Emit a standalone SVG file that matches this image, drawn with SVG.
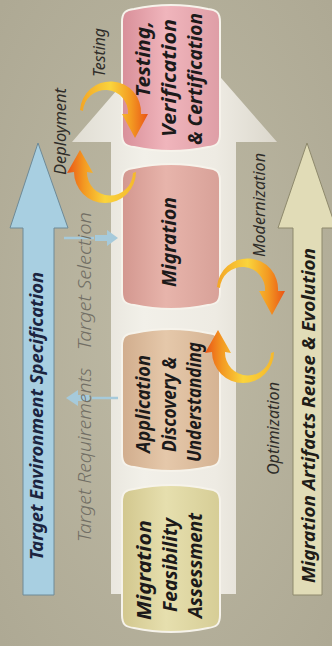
<svg xmlns="http://www.w3.org/2000/svg" width="332" height="646" viewBox="0 0 332 646">
<style>
.nt{font-family:"Noto Sans","DejaVu Sans",sans-serif;font-size:20px;font-weight:700;font-style:italic;fill:#1c1a1a}
.side{font-family:"Noto Sans","DejaVu Sans",sans-serif;font-size:19px;font-weight:300;font-style:italic;fill:#716e64}
.flow{font-family:"Noto Sans","DejaVu Sans",sans-serif;font-size:16px;font-style:italic;fill:#2e2c28}
.big{font-family:"Noto Sans","DejaVu Sans",sans-serif;font-size:17.5px;font-weight:700;font-style:italic}
.ns{stroke:#f6f3eb;stroke-width:2}
.blue{fill:#a6cadb}
</style>
<defs>
<radialGradient id="bg" cx="0.5" cy="0.5" r="0.7">
<stop offset="0" stop-color="#bebaa5"/><stop offset="1" stop-color="#aea994"/>
</radialGradient>
<linearGradient id="shaft" x1="0" y1="0" x2="1" y2="0">
<stop offset="0" stop-color="#e0ddd3"/><stop offset="0.35" stop-color="#f2f0e9"/><stop offset="0.7" stop-color="#eeebe3"/><stop offset="1" stop-color="#dbd7cc"/>
</linearGradient>
<linearGradient id="gT" x1="0" y1="0" x2="1" y2="0">
<stop offset="0" stop-color="#d88f99"/><stop offset="0.45" stop-color="#f0b5bc"/><stop offset="1" stop-color="#de9ea6"/>
</linearGradient>
<linearGradient id="gM" x1="0" y1="0" x2="1" y2="0">
<stop offset="0" stop-color="#d3978f"/><stop offset="0.45" stop-color="#e7b4ab"/><stop offset="1" stop-color="#d8a198"/>
</linearGradient>
<linearGradient id="gA" x1="0" y1="0" x2="1" y2="0">
<stop offset="0" stop-color="#d1ad8d"/><stop offset="0.45" stop-color="#e5c8aa"/><stop offset="1" stop-color="#d5b393"/>
</linearGradient>
<linearGradient id="gF" x1="0" y1="0" x2="1" y2="0">
<stop offset="0" stop-color="#d2c78e"/><stop offset="0.45" stop-color="#e6dfae"/><stop offset="1" stop-color="#d6cd96"/>
</linearGradient>
<linearGradient id="oA" x1="0" y1="0" x2="1" y2="0">
<stop offset="0" stop-color="#f3a526"/><stop offset="0.45" stop-color="#fad43c"/><stop offset="0.75" stop-color="#f39a22"/><stop offset="1" stop-color="#ea5416"/>
</linearGradient>
<linearGradient id="oB" x1="1" y1="0" x2="0" y2="0">
<stop offset="0" stop-color="#f5b82c"/><stop offset="0.45" stop-color="#fad43c"/><stop offset="0.75" stop-color="#f39a22"/><stop offset="1" stop-color="#ea5416"/>
</linearGradient>
<path id="arcA" fill="url(#oA)" d="M80,110 A30.5,30.5 0 0 1 141,114 L148,114 L135,138 L122,114 L128,114 A22.5,22.5 0 0 0 83,111 Z"/>
<path id="arcB" fill="url(#oB)" d="M136,172 A31,31 0 0 1 74,172 L67,173 L80,150 L93,173 L87,172 A23,23 0 0 0 133,173 Z"/>
</defs>

<rect width="332" height="646" fill="url(#bg)"/>

<g id="main-arrow">
<polygon points="111,594 111,142 72,142 174,24 277,142 236,142 236,594" fill="url(#shaft)"/>
</g>

<g id="target-env">
<polygon points="23,595 23,228 10,228 38,143 68,228 54,228 54,595" fill="#a8cfe1" stroke="#6e8a97" stroke-width="1"/>
<text class="big" fill="#1b2440" transform="translate(43,560) rotate(-90)" textLength="288" lengthAdjust="spacingAndGlyphs">Target Environment Specification</text>
</g>

<g id="artifacts">
<polygon points="293,595 293,228 278,228 307,143 336,228 322,228 322,595" fill="#e1dcb7" stroke="#8e896c" stroke-width="1"/>
<text class="big" fill="#1f1d18" transform="translate(315,583) rotate(-90)" textLength="335" lengthAdjust="spacingAndGlyphs">Migration Artifacts Reuse &amp; Evolution</text>
</g>

<g id="node-testing">
<path class="ns" fill="url(#gT)" d="M122,22 C122,12 126,10 134,9 Q171,1 208,9 C216,10 220,12 220,22 L220,134 C220,144 216,146 208,147 Q171,155 134,147 C126,146 122,144 122,134 Z"/>
<text class="nt" transform="translate(150,97) rotate(-90)" textLength="76" lengthAdjust="spacingAndGlyphs">Testing,</text>
<text class="nt" transform="translate(176,137) rotate(-90)" textLength="118" lengthAdjust="spacingAndGlyphs">Verification</text>
<text class="nt" transform="translate(202,145) rotate(-90)" textLength="132" lengthAdjust="spacingAndGlyphs">&amp; Certification</text>
</g>

<g id="node-migration">
<path class="ns" fill="url(#gM)" d="M122,181 C122,171 126,169 134,168 Q171,160 208,168 C216,169 220,171 220,181 L220,292 C220,302 216,304 208,305 Q171,313 134,305 C126,304 122,302 122,292 Z"/>
<text class="nt" transform="translate(176,287) rotate(-90)" textLength="90" lengthAdjust="spacingAndGlyphs">Migration</text>
</g>

<g id="node-discovery">
<path class="ns" fill="url(#gA)" d="M122,346 C122,336 126,334 134,333 Q171,325 208,333 C216,334 220,336 220,346 L220,454 C220,464 216,466 208,467 Q171,475 134,467 C126,466 122,464 122,454 Z"/>
<text class="nt" transform="translate(150,453) rotate(-90)" textLength="98" lengthAdjust="spacingAndGlyphs">Application</text>
<text class="nt" transform="translate(176,452) rotate(-90)" textLength="95" lengthAdjust="spacingAndGlyphs">Discovery &amp;</text>
<text class="nt" transform="translate(201,462) rotate(-90)" textLength="120" lengthAdjust="spacingAndGlyphs">Understanding</text>
</g>

<g id="node-feasibility">
<path class="ns" fill="url(#gF)" d="M122,502 C122,492 126,490 134,489 Q171,481 208,489 C216,490 220,492 220,502 L220,615 C220,625 216,627 208,628 Q171,636 134,628 C126,627 122,625 122,615 Z"/>
<text class="nt" transform="translate(151,620) rotate(-90)" textLength="100" lengthAdjust="spacingAndGlyphs">Migration</text>
<text class="nt" transform="translate(177,612) rotate(-90)" textLength="94" lengthAdjust="spacingAndGlyphs">Feasibility</text>
<text class="nt" transform="translate(202,618) rotate(-90)" textLength="105" lengthAdjust="spacingAndGlyphs">Assessment</text>
</g>

<g id="connectors">
<use href="#arcA"/>
<use href="#arcB"/>
<use href="#arcA" transform="translate(137,177)"/>
<use href="#arcB" transform="translate(138,180)"/>
<line x1="64" y1="238" x2="94" y2="238" stroke="#a6cadb" stroke-width="2.5"/>
<polygon class="blue" points="95,235 107,235 107,230 118,238 107,246 107,241 95,241"/>
<line x1="92" y1="398" x2="118" y2="398" stroke="#a6cadb" stroke-width="2.5"/>
<polygon class="blue" points="90,395 78,395 78,390 66,398 78,406 78,401 90,401"/>
</g>

<g id="labels">
<text class="flow" transform="translate(105,77) rotate(-90)" textLength="49" lengthAdjust="spacingAndGlyphs">Testing</text>
<text class="flow" transform="translate(66,175) rotate(-90)" textLength="87" lengthAdjust="spacingAndGlyphs">Deployment</text>
<text class="flow" transform="translate(265,257) rotate(-90)" textLength="104" lengthAdjust="spacingAndGlyphs">Modernization</text>
<text class="flow" transform="translate(279,475) rotate(-90)" textLength="93" lengthAdjust="spacingAndGlyphs">Optimization</text>
<text class="side" transform="translate(91,350) rotate(-90)" textLength="138" lengthAdjust="spacingAndGlyphs">Target Selection</text>
<text class="side" transform="translate(91,542) rotate(-90)" textLength="174" lengthAdjust="spacingAndGlyphs">Target Requirements</text>
</g>
</svg>
